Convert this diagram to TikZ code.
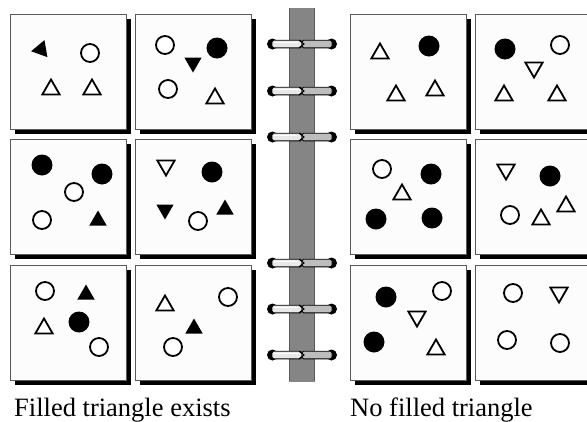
\documentclass[tikz,border=0pt]{standalone}
\usepackage{fontspec}
\setmainfont{Liberation Serif}
\newfontfamily\capfont{Liberation Serif}
\usetikzlibrary{shapes.geometric}
\definecolor{spine}{HTML}{858585}
\definecolor{edge}{HTML}{5A5A5A}
\definecolor{ringlt}{HTML}{E8E8E8}
\definecolor{ringdk}{HTML}{BDBDBD}
\definecolor{paper}{HTML}{FCFCFC}
\tikzset{
  ocirc/.style={circle, draw=black, line width=1.8pt, fill=white, inner sep=0pt, minimum size=18pt},
  fcirc/.style={circle, fill=black, inner sep=0pt, minimum size=21pt},
  tri/.style={regular polygon, regular polygon sides=3, inner sep=0pt, minimum size=20pt},
  otri/.style={tri, draw=black, line width=1.8pt, fill=white, yshift=-2.5pt},
  ftri/.style={tri, fill=black, yshift=-2.5pt},
  otridn/.style={tri, draw=black, line width=1.8pt, fill=white, shape border rotate=180, yshift=2.5pt},
  ftridn/.style={tri, fill=black, shape border rotate=180, yshift=2.5pt},
  card/.style={draw=edge, line width=0.8pt, fill=paper},
  lbl/.style={font=\capfont\fontsize{26.5}{30}\selectfont, anchor=base west, inner sep=0pt},
}

\begin{document}
\begin{tikzpicture}[x=1pt, y=-1pt]
  \clip (0,0) rectangle (587,421);
  \fill[white] (0,0) rectangle (587,421);
  % cards with drop shadow
  \foreach \px in {10,135,350,475}
    \foreach \py in {14,139,265} {
      \fill[black] (\px+5,\py+5) rectangle (\px+121,\py+120);
      \draw[card] (\px,\py) rectangle (\px+116,\py+115);
    }
  % binder spine and rings
  \draw[spine, fill=spine] (289,8) rectangle (314,381);
  \draw[edge, line width=1pt] (289,8) -- (289,381) (314,8) -- (314,381);
  \foreach \ry in {44,91,137,263,309,355} {
    \fill[black] (272.5,\ry) circle (5.5);
    \fill[black] (331.5,\ry) circle (5.5);
    \draw[black, line width=0.9pt, fill=ringlt, rounded corners=1.5pt] (272,\ry-3.8) rectangle (302,\ry+3.8);
    \draw[black, line width=0.9pt, fill=ringdk, rounded corners=1.5pt] (302,\ry-3.8) rectangle (332,\ry+3.8);
    \fill[white] (274,\ry-2.4) rectangle (298,\ry-0.6);
    \draw[black, line width=1pt] (299,\ry-3.8) -- (304,\ry) -- (299,\ry+3.8);
  }
  % left: filled triangle exists
  \node[ftri, shape border rotate=-20] (a1) at (41,47) {};
  \node[ocirc] (a2) at (90,53) {};
  \node[otri] (a3) at (51,87) {};
  \node[otri] (a4) at (92,87) {};
  \node[ocirc] (b1) at (165,45) {};
  \node[fcirc] (b2) at (217,48) {};
  \node[ftridn] (b3) at (193,65) {};
  \node[ocirc] (b4) at (168,89) {};
  \node[otri] (b5) at (215,96) {};
  \node[fcirc] (c1) at (42,165) {};
  \node[fcirc] (c2) at (102,174) {};
  \node[ocirc] (c3) at (74,192) {};
  \node[ocirc] (c4) at (42,220) {};
  \node[ftri] (c5) at (98,218) {};
  \node[otridn] (d1) at (166,168) {};
  \node[fcirc] (d2) at (212,172) {};
  \node[ftridn] (d3) at (165,212) {};
  \node[ocirc] (d4) at (198,221) {};
  \node[ftri] (d5) at (225,207) {};
  \node[ocirc] (e1) at (45,291) {};
  \node[ftri] (e2) at (86,292) {};
  \node[otri] (e3) at (44,326) {};
  \node[fcirc] (e4) at (79,322) {};
  \node[ocirc] (e5) at (99,347) {};
  \node[otri] (f1) at (165,303) {};
  \node[ocirc] (f2) at (228,297) {};
  \node[ftri] (f3) at (194,326) {};
  \node[ocirc] (f4) at (173,347) {};
  % right: no filled triangle
  \node[otri] (g1) at (380,51) {};
  \node[fcirc] (g2) at (429,46) {};
  \node[otri] (g3) at (396,93) {};
  \node[otri] (g4) at (435,88) {};
  \node[fcirc] (h1) at (505,49) {};
  \node[ocirc] (h2) at (560,45) {};
  \node[otridn] (h3) at (534,70) {};
  \node[otri] (h4) at (504,93) {};
  \node[otri] (h5) at (557,93) {};
  \node[ocirc] (i1) at (382,169) {};
  \node[fcirc] (i2) at (431,174) {};
  \node[otri] (i3) at (402,192) {};
  \node[fcirc] (i4) at (376,219) {};
  \node[fcirc] (i5) at (432,218) {};
  \node[otridn] (j1) at (506,172) {};
  \node[fcirc] (j2) at (550,176) {};
  \node[ocirc] (j3) at (510,215) {};
  \node[otri] (j4) at (541,217) {};
  \node[otri] (j5) at (566,204) {};
  \node[fcirc] (k1) at (386,297) {};
  \node[ocirc] (k2) at (442,291) {};
  \node[otridn] (k3) at (417,319) {};
  \node[fcirc] (k4) at (374,342) {};
  \node[otri] (k5) at (436,347) {};
  \node[ocirc] (l1) at (513,293) {};
  \node[otridn] (l2) at (559,295) {};
  \node[ocirc] (l3) at (507,340) {};
  \node[ocirc] (l4) at (560,343) {};
  % captions
  \node[lbl] (yes) at (14,416) {Filled triangle exists};
  \node[lbl] (no) at (350,416) {No filled triangle};
\end{tikzpicture}
\end{document}
